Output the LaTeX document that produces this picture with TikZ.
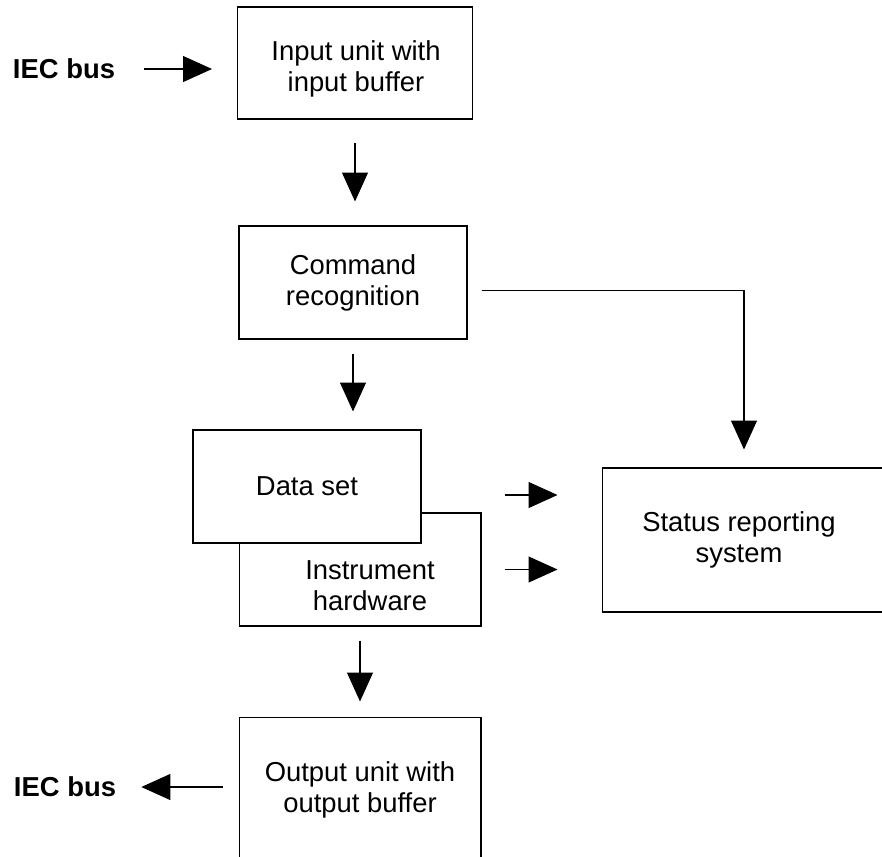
\documentclass[tikz,border=0pt]{standalone}
\usepackage{fontspec}
\setmainfont{Liberation Sans}
\usetikzlibrary{arrows.meta,calc,positioning}

\begin{document}
\begin{tikzpicture}[
    x=0.02cm, y=-0.02cm,
    every node/.style={font=\fontsize{15.6pt}{17.6pt}\selectfont},
    box/.style={rectangle, draw, line width=0.6pt, fill=white, inner sep=0pt, align=center},
    lbl/.style={align=center, inner sep=0pt},
    arrow/.style={-{Triangle[length=0.58cm,width=0.52cm]}, line width=0.6pt}
]
    \useasboundingbox (0,0) rectangle (882,856);
    \clip (0,0) rectangle (882,856);

    % Processing chain
    \node[box, minimum width=4.7cm, minimum height=2.24cm] (inp) at (355,63) {};
    \node[lbl] (inptxt) at (356,69) {Input unit with\\input buffer};
    \node[box, minimum width=4.56cm, minimum height=2.26cm] (cmd) at (353,282.5) {Command\\recognition};
    \node[box, minimum width=4.84cm, minimum height=2.26cm] (hw) at (360,569.5) {};
    \node[lbl] (hwtxt) at (370,586) {Instrument\\hardware};
    \node[box, minimum width=4.56cm, minimum height=2.26cm] (data) at (307,486.5) {Data set};
    \node[box, minimum width=4.84cm, minimum height=2.92cm] (out) at (360,790) {Output unit with\\output buffer};
    \node[box, minimum width=5.96cm, minimum height=2.88cm] (status) at (751,540) {};
    \node[lbl] (statustxt) at (739,540) {Status reporting\\system};

    % Bus labels
    \node[lbl, font=\fontsize{15.6pt}{17.6pt}\selectfont\bfseries] (iecin) at (64,69) {IEC bus};
    \node[lbl, font=\fontsize{15.6pt}{17.6pt}\selectfont\bfseries] (iecout) at (65,787) {IEC bus};

    % Connections
    \draw[arrow, shorten <=0.58cm, shorten >=0.5cm] (iecin.east) -- (iecin.east -| inp.west);
    \draw[arrow, shorten <=0.46cm, shorten >=0.48cm] (inp.south) -- (inp.south |- cmd.north);
    \draw[arrow, shorten <=0.28cm, shorten >=0.36cm] (cmd.south) -- (cmd.south |- data.north);
    \draw[arrow, shorten <=0.28cm, shorten >=0.3cm] (hw.south) -- (hw.south |- out.north);
    \draw[arrow, shorten <=0.32cm, shorten >=0.5cm] (out.west |- iecout.east) -- (iecout.east);
    \draw[arrow, shorten <=0.28cm, shorten >=0.36cm] ([yshift=-0.16cm]cmd.east) -| ([xshift=-0.14cm]status.north);

    % Status outputs
    \draw[arrow, shorten <=0.46cm, shorten >=0.88cm] ($(hw.east |- data.east)+(0,8.5)$) -- ($(status.west |- data.east)+(0,8.5)$);
    \draw[arrow, shorten <=0.46cm, shorten >=0.88cm] (hw.east) -- (hw.east -| status.west);
\end{tikzpicture}
\end{document}
